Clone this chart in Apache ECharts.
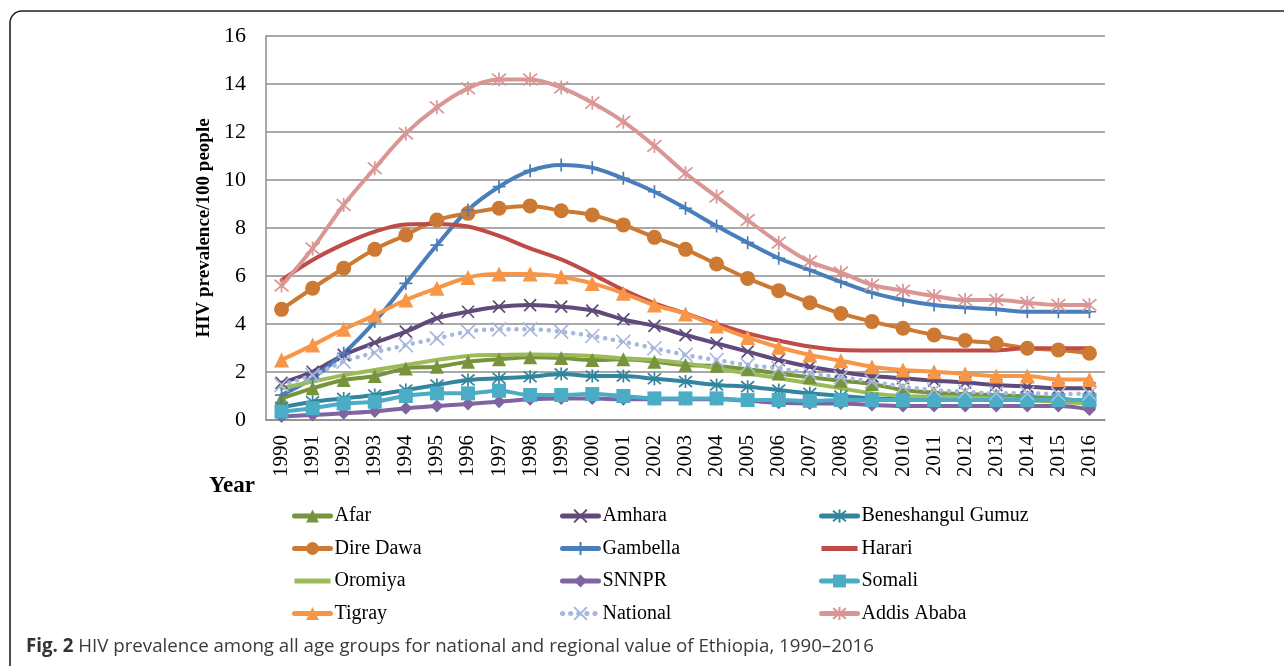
<!DOCTYPE html>
<html>
<head>
<meta charset="utf-8">
<script src="https://cdn.jsdelivr.net/npm/echarts@6/dist/echarts.min.js"></script>
<style>
html,body{margin:0;padding:0;background:#fff;}
#chart{width:1284px;height:666px;}
</style>
</head>
<body>
<div id="chart"></div>
<script>
const years = ['1990','1991','1992','1993','1994','1995','1996','1997','1998','1999','2000','2001','2002','2003','2004','2005','2006','2007','2008','2009','2010','2011','2012','2013','2014','2015','2016'];
const yTicks = [0, 2, 4, 6, 8, 10, 12, 14, 16];
const seriesNames = ['Afar','Amhara','Beneshangul Gumuz','Dire Dawa','Gambella','Harari','Oromiya','SNNPR','Somali','Tigray','National','Addis Ababa'];

const afar = [0.9,1.32,1.67,1.83,2.15,2.22,2.43,2.53,2.61,2.58,2.5,2.53,2.43,2.29,2.25,2.11,1.94,1.78,1.64,1.5,1.25,1.14,1.08,1.04,0.97,0.9,0.76];
const amhara = [1.55,2.01,2.71,3.22,3.68,4.24,4.51,4.72,4.79,4.72,4.56,4.19,3.92,3.54,3.19,2.85,2.5,2.22,2.01,1.83,1.74,1.64,1.56,1.46,1.39,1.32,1.32];
const beneshangul = [0.53,0.76,0.9,1.04,1.25,1.46,1.67,1.74,1.8,1.92,1.83,1.83,1.72,1.6,1.46,1.39,1.25,1.11,1.0,0.9,0.88,0.86,0.85,0.84,0.82,0.8,0.8];
const direDawa = [4.61,5.49,6.32,7.11,7.71,8.33,8.61,8.82,8.92,8.72,8.54,8.13,7.61,7.11,6.5,5.9,5.39,4.89,4.44,4.1,3.82,3.54,3.31,3.19,2.99,2.92,2.78];
const gambella = [1.04,1.75,2.78,4.1,5.69,7.29,8.75,9.72,10.39,10.63,10.51,10.07,9.51,8.82,8.08,7.39,6.74,6.25,5.76,5.31,5.0,4.79,4.69,4.61,4.51,4.51,4.51];
const harari = [5.83,6.67,7.33,7.85,8.15,8.17,8.06,7.67,7.15,6.69,6.08,5.42,4.86,4.44,4.0,3.61,3.31,3.06,2.92,2.9,2.9,2.9,2.9,2.9,2.99,2.99,2.99];
const oromiya = [1.32,1.6,1.87,2.08,2.29,2.5,2.67,2.71,2.73,2.71,2.67,2.57,2.5,2.36,2.15,1.94,1.74,1.53,1.32,1.11,1.0,0.97,0.93,0.9,0.83,0.76,0.69];
const snnpr = [0.15,0.21,0.28,0.35,0.49,0.58,0.67,0.76,0.86,0.9,0.9,0.86,0.86,0.86,0.86,0.8,0.72,0.69,0.69,0.62,0.58,0.58,0.58,0.58,0.58,0.58,0.44];
const somali = [0.35,0.49,0.69,0.76,1.0,1.11,1.11,1.22,1.04,1.04,1.08,1.0,0.9,0.9,0.9,0.83,0.83,0.8,0.83,0.83,0.83,0.83,0.83,0.83,0.83,0.83,0.83];
const tigray = [2.5,3.12,3.78,4.37,5.0,5.49,5.94,6.08,6.08,5.97,5.69,5.28,4.79,4.42,3.92,3.44,3.03,2.71,2.47,2.22,2.08,2.01,1.92,1.83,1.83,1.69,1.69];
const national = [1.46,1.87,2.43,2.81,3.12,3.4,3.68,3.78,3.78,3.68,3.5,3.26,2.99,2.71,2.5,2.29,2.15,1.94,1.78,1.6,1.39,1.25,1.18,1.11,1.11,1.08,1.1];
const addisAbaba = [5.6,7.15,8.96,10.49,11.94,13.03,13.82,14.19,14.19,13.85,13.22,12.43,11.42,10.28,9.31,8.33,7.39,6.6,6.15,5.63,5.39,5.17,5.0,5.0,4.89,4.79,4.79];

const seriesValues = [afar, amhara, beneshangul, direDawa, gambella, harari, oromiya, snnpr, somali, tigray, national, addisAbaba];

const X_PATH = 'path://M0,0L10,10M10,0L0,10';
const STAR_PATH = 'path://M0,0L10,10M10,0L0,10M5,-1L5,11';
const PLUS_PATH = 'path://M5,0L5,10M1,5L9,5';
const BAR_ICON = 'path://M0,0L36,0L36,5L0,5Z';

const styles = [
  {color:'#77933C', symbol:'triangle', size:14},
  {color:'#604A7B', symbol:X_PATH, size:12, stroke:true},
  {color:'#31859C', symbol:STAR_PATH, size:13, stroke:true},
  {color:'#CC7A33', symbol:'circle', size:15},
  {color:'#4A7EBB', symbol:PLUS_PATH, size:13, stroke:true},
  {color:'#BE4B48', symbol:'none', size:0},
  {color:'#9BBB59', symbol:'none', size:0},
  {color:'#8064A2', symbol:'diamond', size:13},
  {color:'#4BACC6', symbol:'rect', size:14},
  {color:'#F79646', symbol:'triangle', size:15},
  {color:'#A6B8DC', symbol:X_PATH, size:14, stroke:true, dotted:true},
  {color:'#D99694', symbol:STAR_PATH, size:14, stroke:true}
];

const series = seriesNames.map((name, i) => {
  const s = styles[i];
  return {
    name: name,
    type: 'line',
    data: seriesValues[i],
    smooth: 0.35,
    symbol: s.symbol,
    symbolSize: s.size,
    showAllSymbol: true,
    lineStyle: {color: s.color, width: s.dotted ? 4.5 : 4, type: s.dotted ? [0.1, 8] : 'solid', cap: 'round'},
    itemStyle: s.stroke ? {color: s.color, borderColor: s.color, borderWidth: 1.7} : {color: s.color, borderWidth: 0},
    emphasis: {disabled: true},
    animation: false
  };
});

function legendItem(name) {
  const i = seriesNames.indexOf(name);
  return styles[i].symbol === 'none' ? {name: name, icon: BAR_ICON} : {name: name};
}

const legendCommon = {
  orient: 'vertical',
  itemWidth: 36,
  itemHeight: 16,
  itemGap: 10.5,
  lineStyle: {width: 5},
  textStyle: {fontFamily: 'Liberation Serif', fontSize: 20, color: '#000', lineHeight: 22, padding:[0,0,0,-1]},
  selectedMode: false,
  top: 500
};

const chart = echarts.init(document.getElementById('chart'), null, {renderer: 'canvas'});
chart.setOption({
  backgroundColor: '#fff',
  animation: false,
  grid: {left: 266, right: 179, top: 36, bottom: 246, containLabel: false},
  xAxis: {
    type: 'category',
    data: years,
    boundaryGap: true,
    axisLine: {show: true, lineStyle: {color: '#8c8c8c', width: 1.5}},
    axisTick: {show: false},
    axisLabel: {rotate: 90, margin: 15, fontFamily: 'Liberation Serif', fontSize: 21, color: '#000', interval: 0},
    splitLine: {show: false}
  },
  yAxis: {
    type: 'value',
    min: 0, max: 16, interval: 2,
    name: 'HIV prevalence/100 people',
    nameLocation: 'middle',
    nameGap: 46,
    nameRotate: 90,
    nameTextStyle: {fontFamily: 'Liberation Serif', fontWeight: 'bold', fontSize: 19, color: '#000'},
    axisLine: {show: true, lineStyle: {color: '#8c8c8c', width: 1.5}},
    axisTick: {show: false},
    axisLabel: {margin: 20, fontFamily: 'Liberation Serif', fontSize: 22, color: '#000',
      formatter: v => yTicks.indexOf(v) >= 0 ? String(v) : ''},
    splitLine: {show: true, lineStyle: {color: '#8c8c8c', width: 1.5}}
  },
  legend: [
    Object.assign({}, legendCommon, {left: 287, data: ['Afar','Dire Dawa','Oromiya','Tigray'].map(legendItem)}),
    Object.assign({}, legendCommon, {left: 555, data: ['Amhara','Gambella','SNNPR','National'].map(legendItem)}),
    Object.assign({}, legendCommon, {left: 814, data: ['Beneshangul Gumuz','Harari','Somali','Addis Ababa'].map(legendItem)})
  ],
  graphic: [
    {type: 'rect', shape: {x: 10, y: 11, width: 1300, height: 680, r: 12}, style: {fill: 'none', stroke: '#222', lineWidth: 1.6}, silent: true, z: -10},
    {type: 'text', left: 209, top: 475, style: {text: 'Year', fontFamily: 'Liberation Serif', fontWeight: 'bold', fontSize: 23, fill: '#000'}},
    {type: 'text', left: 26, top: 637, style: {
      text: '{b|Fig. 2} HIV prevalence among all age groups for national and regional value of Ethiopia, 1990\u20132016',
      rich: {b: {fontFamily: 'Open Sans', fontWeight: 'bold', fontSize: 18.7, fill: '#333'}},
      fontFamily: 'Open Sans', fontSize: 18.7, fill: '#3a3a3a'}}
  ],
  series: series
});
</script>
</body>
</html>
